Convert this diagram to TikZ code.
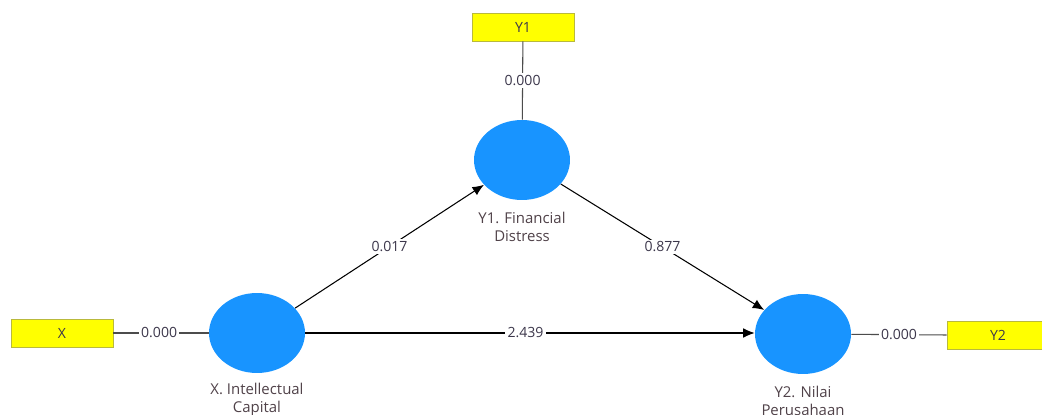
\documentclass[tikz,border=0pt]{standalone}
\usepackage{fontspec}
\setmainfont{Open Sans}
\usetikzlibrary{shapes.geometric,arrows.meta}
\definecolor{lvblue}{RGB}{24,148,255}
\definecolor{indyellow}{RGB}{255,255,0}
\definecolor{indedge}{RGB}{185,185,60}
\definecolor{txtdark}{RGB}{60,55,75}
\tikzset{
	latent/.style={ellipse, fill=lvblue, minimum width=1.92cm, minimum height=1.6cm, inner sep=0pt},
	indicator/.style={rectangle, fill=indyellow, draw=indedge, line width=0.5pt, minimum width=2.04cm, minimum height=0.56cm, inner sep=0pt, text=txtdark},
	caption/.style={align=center, text=txtdark!85!brown, font=\fontsize{8.5}{10.2}\selectfont},
	coef/.style={fill=white, inner sep=1.2pt, text=txtdark, font=\fontsize{8}{9.6}\selectfont},
	path/.style={draw=black, line width=0.6pt, -{Latex[length=6.5pt,width=5.5pt]}},
	load/.style={draw=black!70, line width=0.6pt}
}
\begin{document}
\begin{tikzpicture}[x=0.02cm, y=-0.02cm, font=\fontsize{8}{9.6}\selectfont]
			%%%%% START %%%%%
			\useasboundingbox[fill=white] (0, 0) rectangle (1042, 415);
			
			% latent variables
			\node[latent] (fd) at (522, 160) {};
			\node[latent] (ic) at (257, 333) {};
			\node[latent] (np) at (803, 334) {};
			
			\node[caption] at (522, 227) {Y1. Financial\\Distress};
			\node[caption] at (257, 400) {X. Intellectual\\Capital};
			\node[caption] at (803, 401) {Y2. Nilai\\Perusahaan};
			
			% indicators
			\node[indicator] (y1) at (523, 27) {Y1};
			\node[indicator] (x) at (62, 333) {X};
			\node[indicator] (y2) at (998, 335) {Y2};
			
			\draw[load] (y1) -- node[coef] {0.000} (fd);
			\draw[load] (x) -- node[coef, pos=0.48] {0.000} (ic);
			\draw[load] (np) -- node[coef, pos=0.5] {0.000} (y2.west);
			
			% paths
			\draw[path] (ic) -- node[coef] {0.017} (fd);
			\draw[path] (fd) -- node[coef] {0.877} (np);
			\draw[path] (ic) -- node[coef, pos=0.49] {2.439} (np.west |- ic);
			
			%%%%% END %%%%%
\end{tikzpicture}
\end{document}
